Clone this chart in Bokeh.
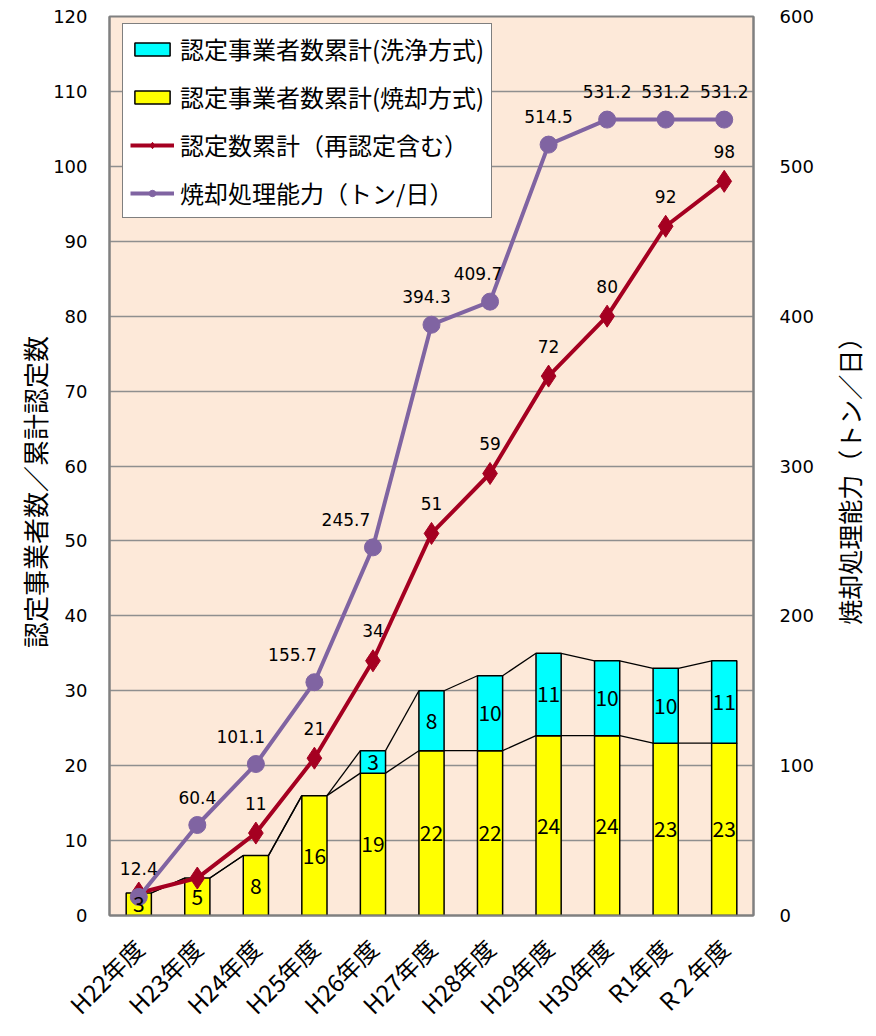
import math
from bokeh.plotting import figure
from bokeh.layouts import row
from bokeh.models import (Range1d, LinearAxis, FixedTicker, ColumnDataSource,
                          LabelSet, Legend, LegendItem)
from bokeh.embed import file_html
from bokeh.resources import INLINE
from bokeh.core.properties import value

# ---------------- data ----------------
categories = ["H22年度", "H23年度", "H24年度", "H25年度", "H26年度", "H27年度",
              "H28年度", "H29年度", "H30年度", "R1年度", "R２年度"]
incineration = [3, 5, 8, 16, 19, 22, 22, 24, 24, 23, 23]      # 焼却方式
washing = [0, 0, 0, 0, 3, 8, 10, 11, 10, 10, 11]              # 洗浄方式
cumulative = [3, 5, 11, 21, 34, 51, 59, 72, 80, 92, 98]       # 認定数累計
capacity = [12.4, 60.4, 101.1, 155.7, 245.7, 394.3, 409.7, 514.5, 531.2, 531.2, 531.2]
left_ticks = [0, 10, 20, 30, 40, 50, 60, 70, 80, 90, 100, 110, 120]
right_ticks = [0, 100, 200, 300, 400, 500, 600]

# label nudges (layout only)
cap_label_dx = [0, 0, -15, -22, -27, -5, -12, 0, 0, 0, 0]

JP = "Noto Sans CJK JP"
NUM = "DejaVu Sans"

n = len(categories)
centers = [i + 0.5 for i in range(n)]
bw = 0.43
totals = [a + b for a, b in zip(incineration, washing)]

SIDE_W = 40
W, H = 876 - SIDE_W, 1036
BL, BT, FW, FH = 109, 16, 644, 899
p = figure(width=W, height=H, x_range=Range1d(0, n), y_range=Range1d(0, 120),
           output_backend="svg", toolbar_location=None,
           min_border_left=BL, min_border_right=W - BL - FW, min_border_top=BT,
           min_border_bottom=H - BT - FH)
p.extra_y_ranges = {"cap": Range1d(0, 600)}

p.background_fill_color = "#FDE9D9"
p.border_fill_color = "white"
p.outline_line_color = "#808080"
p.outline_line_width = 2

p.xgrid.visible = False
p.ygrid.ticker = FixedTicker(ticks=left_ticks)
p.ygrid.grid_line_color = "#8f8f8f"
p.ygrid.grid_line_width = 1.5

# left axis
ya = p.yaxis[0]
ya.ticker = FixedTicker(ticks=left_ticks)
ya.axis_label = "認定事業者数／累計認定数\u3000\u3000"
ya.axis_label_text_font = JP
ya.axis_label_text_font_size = "26px"
ya.axis_label_text_font_style = "normal"
ya.axis_label_text_color = "black"
ya.axis_label_standoff = -3
ya.major_label_text_font = NUM
ya.major_label_text_font_size = "18px"
ya.major_label_text_color = "black"
ya.major_label_standoff = 16
ya.major_tick_line_color = None
ya.minor_tick_line_color = None
ya.axis_line_color = "#808080"
ya.axis_line_width = 2

# right axis
ra = LinearAxis(y_range_name="cap", ticker=FixedTicker(ticks=right_ticks))
ra.major_label_text_font = NUM
ra.major_label_text_font_size = "18px"
ra.major_label_text_color = "black"
ra.major_label_standoff = 20
ra.major_tick_line_color = None
ra.minor_tick_line_color = None
ra.axis_line_color = "#808080"
ra.axis_line_width = 2
p.add_layout(ra, "right")

# bottom axis
xa = p.xaxis[0]
xa.ticker = FixedTicker(ticks=centers)
xa.major_label_overrides = {c: lab for c, lab in zip(centers, categories)}
xa.major_label_orientation = math.pi / 4
xa.major_label_text_font = JP
xa.major_label_text_font_size = "24px"
xa.major_label_text_color = "black"
xa.major_label_standoff = 22
xa.major_tick_line_color = None
xa.minor_tick_line_color = None
xa.axis_line_color = "#808080"
xa.axis_line_width = 2

# ---------------- bars ----------------
yel = p.vbar(x=centers, width=bw, bottom=0, top=incineration,
             fill_color="#FFFF00", line_color="black", line_width=1.5)
wi = [i for i in range(n) if washing[i] > 0]
cy = p.vbar(x=[centers[i] for i in wi], width=bw,
            bottom=[incineration[i] for i in wi], top=[totals[i] for i in wi],
            fill_color="#00FFFF", line_color="black", line_width=1.5)

# series lines between bars
x0 = [centers[i] + bw / 2 for i in range(n - 1)]
x1 = [centers[i + 1] - bw / 2 for i in range(n - 1)]
p.segment(x0=x0, x1=x1, y0=incineration[:-1], y1=incineration[1:],
          line_color="black", line_width=1.3)
p.segment(x0=x0, x1=x1, y0=totals[:-1], y1=totals[1:],
          line_color="black", line_width=1.3)

# bar labels
yl_src = ColumnDataSource(dict(x=centers, y=[v / 2 for v in incineration],
                               t=[str(v) for v in incineration]))
p.add_layout(LabelSet(x="x", y="y", text="t", source=yl_src, text_align="center",
                      text_baseline="middle", text_font=value(JP),
                      text_font_size="21px", text_color="black"))
cl_src = ColumnDataSource(dict(x=[centers[i] for i in wi],
                               y=[incineration[i] + washing[i] / 2 for i in wi],
                               t=[str(washing[i]) for i in wi]))
p.add_layout(LabelSet(x="x", y="y", text="t", source=cl_src, text_align="center",
                      text_baseline="middle", text_font=value(JP),
                      text_font_size="21px", text_color="black"))

# ---------------- lines ----------------
RED = "#A50021"
PUR = "#8064A2"
rl = p.line(centers, cumulative, line_color=RED, line_width=4)
rm = p.scatter(centers, cumulative, marker="diamond", size=22, fill_color=RED,
               line_color=RED)
pl = p.line(centers, capacity, line_color=PUR, line_width=4, y_range_name="cap")
pm = p.scatter(centers, capacity, marker="circle", size=17, fill_color=PUR,
               line_color=PUR, y_range_name="cap")

ri = list(range(2, n))
rs = ColumnDataSource(dict(x=[centers[i] for i in ri], y=[cumulative[i] for i in ri],
                           t=[str(cumulative[i]) for i in ri]))
p.add_layout(LabelSet(x="x", y="y", text="t", source=rs, text_align="center",
                      text_baseline="middle", y_offset=30, text_font=value(NUM),
                      text_font_size="17px", text_color="black"))
ps = ColumnDataSource(dict(x=centers, y=capacity, t=[f"{v:.1f}" for v in capacity],
                           dx=cap_label_dx))
p.add_layout(LabelSet(x="x", y="y", text="t", source=ps, text_align="center",
                      text_baseline="middle", y_offset=28, x_offset="dx",
                      y_range_name="cap", text_font=value(NUM),
                      text_font_size="17px", text_color="black"))

# ---------------- legend ----------------
legend = Legend(items=[
    LegendItem(label="認定事業者数累計(洗浄方式)", renderers=[cy]),
    LegendItem(label="認定事業者数累計(焼却方式)", renderers=[yel]),
    LegendItem(label="認定数累計（再認定含む）", renderers=[rl, rm]),
    LegendItem(label="焼却処理能力（トン/日）", renderers=[pl, pm]),
], location=(13, FH - 9 - 193))
legend.label_text_font = JP
legend.label_text_font_size = "24px"
legend.label_text_color = "black"
legend.glyph_width = 44
legend.glyph_height = 16
legend.label_height = 24
legend.label_standoff = 6
legend.spacing = 13
legend.padding = 7
legend.margin = 0
legend.border_line_color = "black"
legend.border_line_width = 1.5
legend.background_fill_color = "white"
legend.background_fill_alpha = 1.0
p.add_layout(legend)

# ---------------- right axis title (reads bottom to top) ----------------
right_title = "焼却処理能力（トン／日）"
side = figure(width=SIDE_W, height=H, x_range=Range1d(0, 1), y_range=Range1d(0, H),
              output_backend="svg", toolbar_location=None,
              x_axis_type=None, y_axis_type=None, min_border=0)
side.outline_line_color = None
side.grid.visible = False
side.background_fill_color = "white"
side.border_fill_color = "white"
side.text(x=[0.32], y=[H - 528], text=[right_title], angle=math.pi / 2,
          text_align="center", text_baseline="middle", text_font=value(JP),
          text_font_size="25px", text_color="black")

layout = row(p, side, spacing=0)

open("out.html", "w").write(file_html(layout, INLINE))
